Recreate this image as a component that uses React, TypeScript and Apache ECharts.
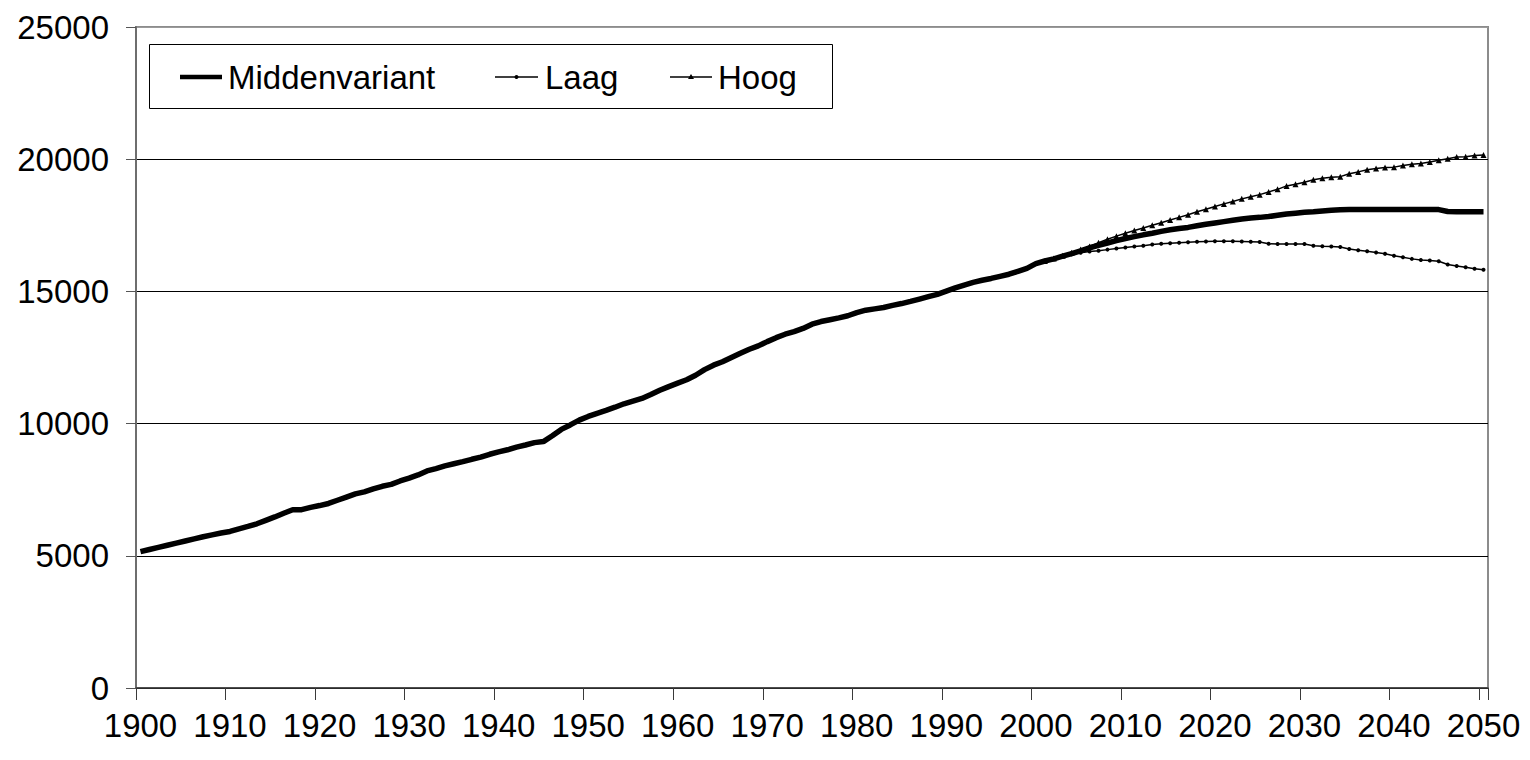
import React, { useEffect, useRef } from "react";
import * as echarts from "echarts";

// Years on the category axis
const startYear = 1900;
const endYear = 2050;
const years: string[] = [];
for (let y = startYear; y <= endYear; y++) years.push(String(y));

// Middenvariant 1900-2050 (x 1000)
const midValues: number[] = [
  // 1900-1909
  5160, 5240, 5320, 5400, 5480, 5560, 5640, 5720, 5790, 5860,
  // 1910-1919
  5920, 6020, 6110, 6210, 6340, 6470, 6610, 6740, 6745, 6830,
  // 1920-1929
  6900, 6980, 7100, 7220, 7340, 7420, 7530, 7630, 7700, 7830,
  // 1930-1939
  7940, 8060, 8210, 8300, 8400, 8480, 8560, 8650, 8730, 8840,
  // 1940-1949
  8930, 9010, 9110, 9190, 9280, 9320, 9540, 9780, 9950, 10130,
  // 1950-1959
  10270, 10390, 10500, 10620, 10750, 10850, 10950, 11100, 11260, 11400,
  // 1960-1969
  11530, 11660, 11830, 12040, 12210, 12340, 12500, 12660, 12810, 12940,
  // 1970-1979
  13100, 13250, 13380, 13480, 13600, 13760, 13860, 13930, 14000, 14080,
  // 1980-1989
  14200, 14290, 14340, 14390, 14470, 14540, 14620, 14710, 14800, 14890,
  // 1990-1999
  15010, 15130, 15240, 15340, 15420, 15490, 15570, 15650, 15760, 15870,
  // 2000-2009
  16050, 16150, 16230, 16330, 16430, 16530, 16650, 16740, 16830, 16920,
  // 2010-2019
  17000, 17070, 17140, 17200, 17270, 17330, 17380, 17420, 17480, 17540,
  // 2020-2029
  17590, 17640, 17690, 17740, 17780, 17800, 17830, 17880, 17930, 17960,
  // 2030-2039
  17990, 18010, 18040, 18070, 18090, 18095, 18095, 18095, 18095, 18095,
  // 2040-2049
  18095, 18095, 18095, 18095, 18095, 18095, 18020, 18010, 18010, 18010,
  // 2050
  18010,
];

// Projection variants start in 2001
const variantStart = 2001;
const laagValues: number[] = [
  // 2001-2010
  16150, 16230, 16320, 16400, 16460, 16510, 16540, 16580, 16620, 16660,
  // 2011-2020
  16700, 16730, 16770, 16800, 16820, 16840, 16860, 16880, 16890, 16900,
  // 2021-2030
  16900, 16900, 16890, 16880, 16870, 16800, 16790, 16790, 16790, 16790,
  // 2031-2040
  16730, 16710, 16700, 16680, 16600, 16560, 16520, 16470, 16420, 16350,
  // 2041-2050
  16290, 16230, 16190, 16170, 16140, 16020, 15960, 15910, 15860, 15820,
];
const hoogValues: number[] = [
  // 2001-2010
  16150, 16240, 16350, 16460, 16580, 16700, 16840, 16970, 17090, 17200,
  // 2011-2020
  17300, 17400, 17500, 17600, 17700, 17800, 17900, 18010, 18110, 18210,
  // 2021-2030
  18310, 18400, 18500, 18580, 18660, 18760, 18860, 18990, 19050, 19130,
  // 2031-2040
  19220, 19280, 19320, 19340, 19450, 19520, 19600, 19650, 19690, 19700,
  // 2041-2050
  19760, 19810, 19840, 19890, 19960, 20020, 20080, 20090, 20140, 20160,
];

const yTicks = { min: 0, max: 25000, interval: 5000 };
const legendNames = ["Middenvariant", "Laag", "Hoog"];

const FONT = "'Liberation Sans', Arial, Helvetica, sans-serif";

function variantData(values: number[]): (number | null)[] {
  return years.map((y) => {
    const yr = Number(y);
    return yr >= variantStart ? values[yr - variantStart] : null;
  });
}

export default function App() {
  const ref = useRef<HTMLDivElement>(null);
  useEffect(() => {
    if (!ref.current) return;
    const chart = echarts.init(ref.current, undefined, { renderer: "svg" });
    const legendY = 77;
    const option: any = {
      animation: false,
      backgroundColor: "#ffffff",
      textStyle: { fontFamily: FONT },
      grid: {
        left: 136,
        top: 27,
        right: 42,
        bottom: 72,
        show: true,
        borderColor: "#8c8c8c",
        borderWidth: 2,
        backgroundColor: "#ffffff",
        containLabel: false,
        outerBoundsMode: "none",
      },
      xAxis: {
        type: "category",
        data: years,
        boundaryGap: true,
        axisLine: { show: true, lineStyle: { color: "#3a3a3a", width: 1.5 } },
        axisTick: {
          show: true,
          interval: 9,
          length: 12,
          lineStyle: { color: "#3a3a3a", width: 1 },
        },
        axisLabel: {
          interval: 9,
          fontSize: 33,
          fontFamily: FONT,
          color: "#000",
          margin: 21,
        },
        splitLine: { show: false },
      },
      yAxis: {
        type: "value",
        min: yTicks.min,
        max: yTicks.max,
        interval: yTicks.interval,
        axisLine: { show: true, lineStyle: { color: "#6e6e6e", width: 2 } },
        axisTick: { show: true, length: 10, lineStyle: { color: "#555", width: 1 } },
        axisLabel: {
          fontSize: 33,
          fontFamily: FONT,
          color: "#000",
          margin: 27,
          formatter: (v: number) => String(v),
        },
        splitLine: {
          show: true,
          lineStyle: {
            color: ["#000", "#000", "#000", "#000", "#000", "#9a9a9a"],
            width: 1,
          },
        },
      },
      series: [
        {
          name: legendNames[0],
          type: "line",
          data: midValues,
          symbol: "none",
          lineStyle: { color: "#000", width: 5.5 },
          z: 4,
        },
        {
          name: legendNames[1],
          type: "line",
          data: variantData(laagValues),
          symbol: "circle",
          symbolSize: 4,
          showSymbol: true,
          showAllSymbol: true,
          connectNulls: false,
          itemStyle: { color: "#000", borderWidth: 0 },
          lineStyle: { color: "#000", width: 1.5 },
          z: 3,
        },
        {
          name: legendNames[2],
          type: "line",
          data: variantData(hoogValues),
          symbol: "triangle",
          symbolSize: 6,
          showSymbol: true,
          showAllSymbol: true,
          connectNulls: false,
          itemStyle: { color: "#000", borderWidth: 0 },
          lineStyle: { color: "#000", width: 1.5 },
          z: 3,
        },
      ],
      graphic: [
        {
          type: "group",
          z: 100,
          children: [
            {
              type: "rect",
              shape: { x: 149.5, y: 44.5, width: 683, height: 64 },
              style: { fill: "#fff", stroke: "#000", lineWidth: 1 },
            },
            {
              type: "line",
              shape: { x1: 180, y1: legendY, x2: 222, y2: legendY },
              style: { stroke: "#000", lineWidth: 4.5 },
            },
            {
              type: "text",
              x: 228,
              y: legendY,
              style: {
                text: legendNames[0],
                font: `33px ${FONT}`,
                fill: "#000",
                verticalAlign: "middle",
                align: "left",
              },
            },
            {
              type: "line",
              shape: { x1: 495, y1: legendY, x2: 538, y2: legendY },
              style: { stroke: "#000", lineWidth: 1.5 },
            },
            {
              type: "circle",
              shape: { cx: 516.5, cy: legendY, r: 2 },
              style: { fill: "#000" },
            },
            {
              type: "text",
              x: 545,
              y: legendY,
              style: {
                text: legendNames[1],
                font: `33px ${FONT}`,
                fill: "#000",
                verticalAlign: "middle",
                align: "left",
              },
            },
            {
              type: "line",
              shape: { x1: 670, y1: legendY, x2: 712, y2: legendY },
              style: { stroke: "#000", lineWidth: 1.5 },
            },
            {
              type: "polygon",
              shape: {
                points: [
                  [691, legendY - 3],
                  [694, legendY + 2],
                  [688, legendY + 2],
                ],
              },
              style: { fill: "#000" },
            },
            {
              type: "text",
              x: 718,
              y: legendY,
              style: {
                text: legendNames[2],
                font: `33px ${FONT}`,
                fill: "#000",
                verticalAlign: "middle",
                align: "left",
              },
            },
          ],
        },
      ],
    };
    chart.setOption(option);
    return () => chart.dispose();
  }, []);
  return (
    <div
      ref={ref}
      style={{
        position: "fixed",
        left: 0,
        top: 0,
        width: 1530,
        height: 760,
        background: "#fff",
      }}
    />
  );
}
